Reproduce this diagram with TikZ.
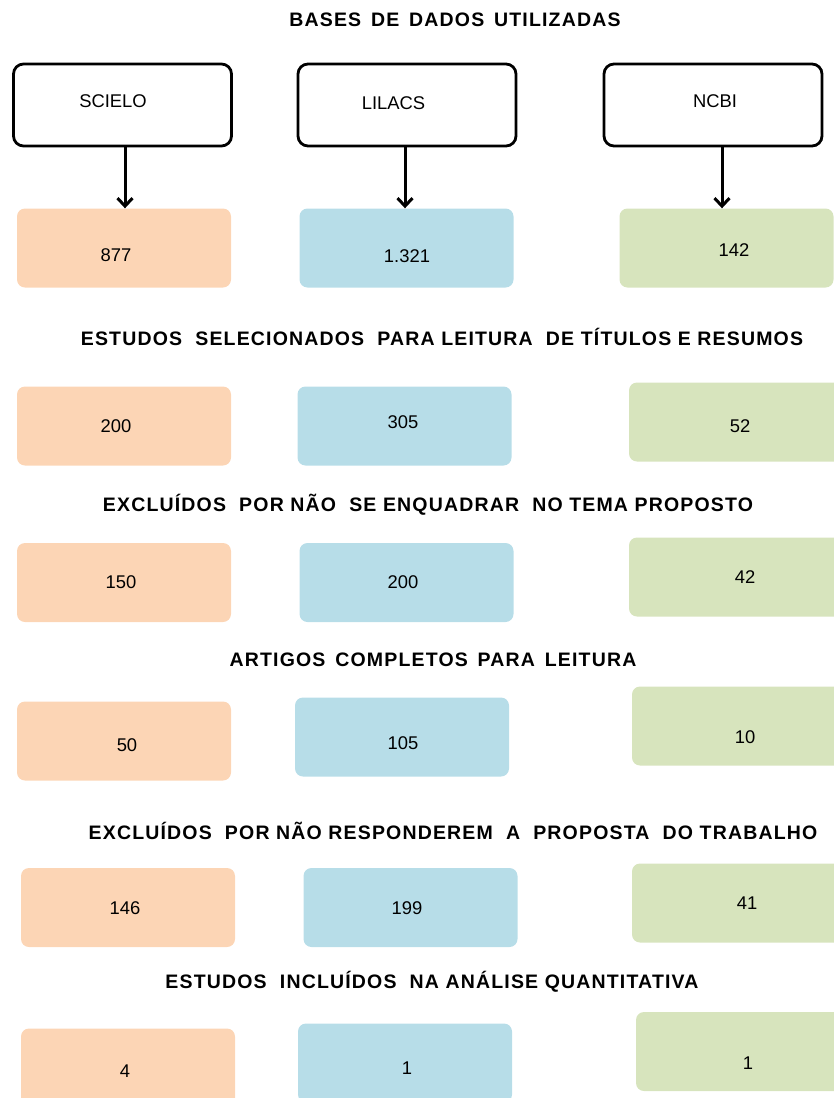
\documentclass[tikz,border=0pt]{standalone}
\usepackage{fontspec}
\setmainfont{Liberation Sans}
\newfontfamily\titlefont[LetterSpace=6]{Liberation Sans}
\usetikzlibrary{arrows.meta}
\definecolor{scielo}{HTML}{FCD5B5}
\definecolor{lilacs}{HTML}{B7DDE8}
\definecolor{ncbi}{HTML}{D7E4BD}

\begin{document}
\begin{tikzpicture}[x=1pt, y=-1pt,
  base/.style={draw=black, line width=2.8pt, rounded corners=10pt, minimum width=218pt, minimum height=82pt, inner sep=0pt},
  cnt/.style={rounded corners=8pt, minimum width=214pt, minimum height=79pt, inner sep=0pt},
  sc/.style={cnt, fill=scielo}, li/.style={cnt, fill=lilacs}, nc/.style={cnt, fill=ncbi},
  num/.style={inner sep=0pt, font=\fontsize{18.4}{21}\selectfont},
  title/.style={font=\titlefont\bfseries\fontsize{19.5}{22}\selectfont},
  arr/.style={-{Straight Barb[length=8pt,width=15pt]}, line width=3pt}]
\useasboundingbox (0,0) rectangle (834,1098);

\node[title] (t1) at (455,20) {BASES\ \,DE\ \,DADOS\ \,UTILIZADAS};

% Databases
\node[base] (b1) at (122.5,105) {};
\node[base] (b2) at (407,105) {};
\node[base] (b3) at (713,105) {};
\node[num] (b1t) at (113,101.5) {SCIELO};
\node[num] (b2t) at (393.5,103.5) {LILACS};
\node[num] (b3t) at (715,101.5) {NCBI};

\node[sc] (s1) at (124,248) {};
\node[li] (l1) at (406.5,248) {};
\node[nc] (n1) at (726.5,248) {};
\node[num] (s1t) at (116,255) {877};
\node[num] (l1t) at (407,256) {1.321};
\node[num] (n1t) at (734,250) {142};

% Arrows
\draw[arr] ([xshift=2.5pt]b1.south) -- ([xshift=2.5pt]b1.south |- s1.north);
\draw[arr] ([xshift=-2pt]b2.south) -- ([xshift=-2pt]b2.south |- l1.north);
\draw[arr] ([xshift=9pt]b3.south) -- ([xshift=9pt]b3.south |- n1.north);

% Titles and abstracts
\node[title] (t2) at (442,337) {ESTUDOS\ \ SELECIONADOS\ \ PARA LEITURA\ \ DE TÍTULOS E RESUMOS};
\node[sc] (s2) at (124,426) {};
\node[li] (l2) at (404.5,426) {};
\node[nc] (n2) at (736,422) {};
\node[num] (s2t) at (116,426) {200};
\node[num] (l2t) at (403,422) {305};
\node[num] (n2t) at (740,426) {52};

\node[title] (t3) at (428,505) {EXCLUÍDOS\ \ POR NÃO\ \ SE ENQUADRAR\ \ NO TEMA PROPOSTO};
\node[sc] (s3) at (124,582.5) {};
\node[li] (l3) at (406.5,582.5) {};
\node[nc] (n3) at (736,577) {};
\node[num] (s3t) at (121,582) {150};
\node[num] (l3t) at (403,582) {200};
\node[num] (n3t) at (745,577) {42};

% Full texts
\node[title] (t4) at (433,660) {ARTIGOS\ \,COMPLETOS\ \,PARA\ \,LEITURA};
\node[sc] (s4) at (124,741) {};
\node[li] (l4) at (402,737) {};
\node[nc] (n4) at (739,726) {};
\node[num] (s4t) at (127,745) {50};
\node[num] (l4t) at (403,743) {105};
\node[num] (n4t) at (745,737) {10};

\node[title] (t5) at (453,831) {EXCLUÍDOS\ \ POR NÃO RESPONDEREM\ \ A\ \ PROPOSTA\ \ DO TRABALHO};
\node[sc] (s5) at (128,907.5) {};
\node[li] (l5) at (410.5,907.5) {};
\node[nc] (n5) at (739,903) {};
\node[num] (s5t) at (125,908) {146};
\node[num] (l5t) at (407,908) {199};
\node[num] (n5t) at (747,903) {41};

% Included
\node[title] (t6) at (432,982) {ESTUDOS\ \ INCLUÍDOS\ \ NA ANÁLISE QUANTITATIVA};
\node[sc] (s6) at (128,1068) {};
\node[li] (l6) at (405,1063) {};
\node[nc] (n6) at (743,1051.5) {};
\node[num] (s6t) at (125,1071) {4};
\node[num] (l6t) at (407,1068) {1};
\node[num] (n6t) at (748,1063) {1};
\end{tikzpicture}
\end{document}
